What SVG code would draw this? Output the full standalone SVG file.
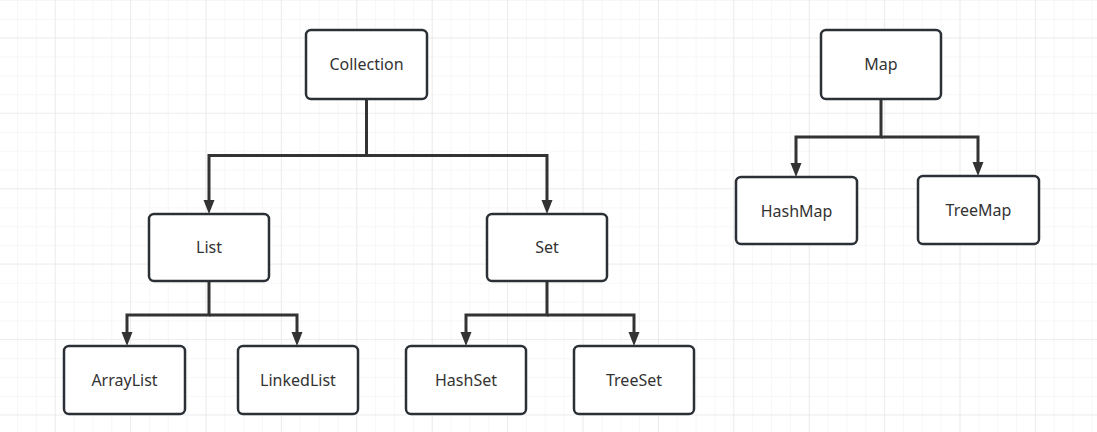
<svg xmlns="http://www.w3.org/2000/svg" width="1097" height="432" viewBox="0 0 1097 432">
<defs>
<pattern id="minor" x="-1.85" y="0" width="18.85" height="18.85" patternUnits="userSpaceOnUse">
<path d="M0 0 V18.85 M0 0 H18.85" fill="none" stroke="#efefef" stroke-width="1"/>
</pattern>
<pattern id="major" x="54.7" y="37.3" width="75.4" height="75.4" patternUnits="userSpaceOnUse">
<path d="M0 0 V75.4 M0 0 H75.4" fill="none" stroke="#e4e4e4" stroke-width="1.2"/>
</pattern>
<path id="ah" d="M-5.5 -14 L5.5 -14 L0 0 Z"/>
<style>
.node rect{fill:#fff;stroke:#2b3036;stroke-width:2.5}
.node text{font-family:"Noto Sans","Open Sans",sans-serif;font-size:16px;fill:#333;text-anchor:middle;dominant-baseline:central}
.conn path{fill:none;stroke:#333;stroke-width:3}
.heads use{fill:#333}
</style>
</defs>
<rect width="1097" height="432" fill="#fff"/>
<g id="grid">
<rect width="1097" height="432" fill="url(#minor)"/>
<rect width="1097" height="432" fill="url(#major)"/>
</g>
<g id="connectors">
<g class="conn">
<path d="M366.5 99 V155.5 H209 V200"/>
<path d="M366.5 155.5 H547 V200"/>
<path d="M209 281 V315 H127 V332"/>
<path d="M209 315 H297 V332"/>
<path d="M547 281 V315 H466 V332"/>
<path d="M547 315 H634 V332"/>
<path d="M881 99 V137 H796 V163"/>
<path d="M881 137 H978 V162"/>
</g>
<g class="heads">
<use href="#ah" x="209" y="214"/>
<use href="#ah" x="547" y="214"/>
<use href="#ah" x="127" y="346"/>
<use href="#ah" x="297" y="346"/>
<use href="#ah" x="466" y="346"/>
<use href="#ah" x="634" y="346"/>
<use href="#ah" x="796" y="177"/>
<use href="#ah" x="978" y="176"/>
</g>
</g>
<g id="collection" class="node"><rect x="306" y="30" width="121" height="69" rx="5"/><text x="366.5" y="64">Collection</text></g>
<g id="list" class="node"><rect x="149" y="214" width="120" height="67" rx="5"/><text x="209" y="247">List</text></g>
<g id="set" class="node"><rect x="487" y="214" width="120" height="67" rx="5"/><text x="547" y="247">Set</text></g>
<g id="arraylist" class="node"><rect x="64" y="346" width="121" height="68" rx="5"/><text x="124.5" y="380">ArrayList</text></g>
<g id="linkedlist" class="node"><rect x="238" y="346" width="120" height="68" rx="5"/><text x="298" y="380">LinkedList</text></g>
<g id="hashset" class="node"><rect x="406" y="346" width="120" height="68" rx="5"/><text x="466" y="380">HashSet</text></g>
<g id="treeset" class="node"><rect x="574" y="346" width="120" height="68" rx="5"/><text x="634" y="380">TreeSet</text></g>
<g id="map" class="node"><rect x="821" y="30" width="120" height="69" rx="5"/><text x="881" y="64">Map</text></g>
<g id="hashmap" class="node"><rect x="736" y="177" width="121" height="67" rx="5"/><text x="796.5" y="210.5">HashMap</text></g>
<g id="treemap" class="node"><rect x="918" y="176" width="121" height="68" rx="5"/><text x="978.5" y="210">TreeMap</text></g>
</svg>
